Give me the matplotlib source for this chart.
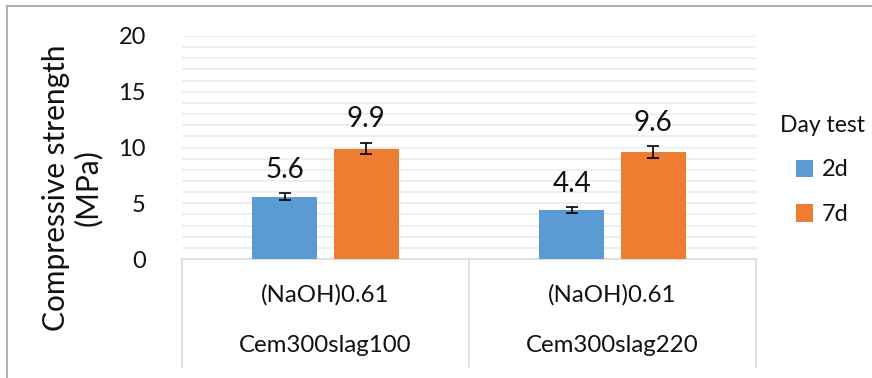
import matplotlib
matplotlib.use("Agg")
import matplotlib.pyplot as plt
from matplotlib.lines import Line2D
from matplotlib.patches import Patch
import numpy as np

plt.rcParams['font.family'] = ['Lato', 'DejaVu Sans']

# Data
mixes = ["Cem300slag100", "Cem300slag220"]
activator = ["(NaOH)0.61", "(NaOH)0.61"]
series_names = ["2d", "7d"]
strength_2d = [5.6, 4.4]
strength_7d = [9.9, 9.6]
err_2d = [0.3, 0.25]
err_7d = [0.5, 0.5]
y_ticks = [0, 5, 10, 15, 20]

colors = ["#5b9bd5", "#ed7d31"]
txt = '#111111'

W, H = 872, 378
fig = plt.figure(figsize=(W / 100, H / 100), dpi=100)
ax = fig.add_axes([182 / W, 1 - 259 / H, (756 - 182) / W, (259 - 36) / H])

x = np.arange(len(mixes))
bw = 0.226
off = 0.142
for vals, errs, c, dx in [(strength_2d, err_2d, colors[0], -off),
                          (strength_7d, err_7d, colors[1], off)]:
    ax.bar(x + dx, vals, width=bw, color=c, zorder=3)
    ax.errorbar(x + dx, vals, yerr=errs, fmt='none', ecolor='black',
                elinewidth=1.2, capsize=4.5, capthick=1.2, zorder=4)
    for xi, v, e in zip(x + dx, vals, errs):
        ax.text(xi, v + e + 1.4, f"{v:.1f}", ha='center', va='baseline',
                fontsize=20, color=txt)

ax.set_xlim(-0.5, len(mixes) - 0.5)
ax.set_ylim(0, 20)
ax.set_yticks(y_ticks)
ax.set_yticklabels([str(t) for t in y_ticks], fontsize=17, color=txt)
ax.tick_params(axis='y', length=0, pad=26)
ax.tick_params(axis='x', length=0, labelbottom=False)

# Light horizontal grid at every unit
for g in range(1, 21):
    ax.axhline(g, color='#efefef', linewidth=1.5, zorder=1)

for s in ['top', 'right', 'left']:
    ax.spines[s].set_visible(False)
ax.spines['bottom'].set_color('#d9d9d9')
ax.spines['bottom'].set_linewidth(1.2)

# Category table below the axis
span = 259 - 36
bottom_frac = -(367 - 259) / span
for b in np.arange(len(mixes) + 1) - 0.5:
    ax.plot([b, b], [0, bottom_frac], transform=ax.get_xaxis_transform(),
            color='#d9d9d9', linewidth=1.2, clip_on=False)
for xi, a, m in zip(x, activator, mixes):
    ax.text(xi, -(295 - 259) / span, a, transform=ax.get_xaxis_transform(),
            ha='center', va='center', fontsize=17.3, color=txt)
    ax.text(xi, -(346 - 259) / span, m, transform=ax.get_xaxis_transform(),
            ha='center', va='center', fontsize=17.3, color=txt)

# Axis title
fig.text(72 / W, 1 - 188 / H, "Compressive strength\n(MPa)", rotation=90,
         ha='center', va='center', fontsize=21.5, color=txt,
         linespacing=1.12)

# Legend
handles = [Patch(facecolor=c, edgecolor='none') for c in colors]
leg = fig.legend(handles, series_names, title="Day test",
                 loc='center', bbox_to_anchor=(822 / W, 1 - 170 / H),
                 frameon=False, fontsize=17, title_fontsize=16.5,
                 handlelength=0.75, handleheight=0.75, handletextpad=0.35,
                 labelspacing=1.0, borderpad=0, borderaxespad=0)
leg._legend_box.align = "center"
for t in leg.get_texts():
    t.set_color(txt)
leg.get_title().set_color(txt)

# Outer frame edges
fig.add_artist(Line2D([7 / W, 1], [1 - 6 / H, 1 - 6 / H], color='#a6a6a6', linewidth=1.2))
fig.add_artist(Line2D([7 / W, 7 / W], [0, 1 - 6 / H], color='#a6a6a6', linewidth=1.2))

fig.savefig("out.png", dpi=100)
